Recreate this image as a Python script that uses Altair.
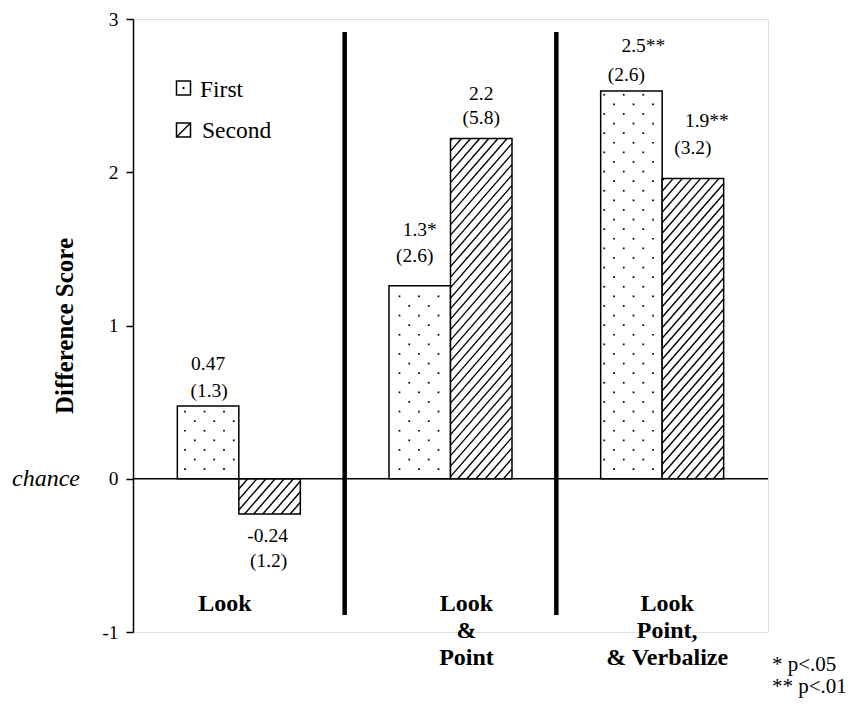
import altair as alt
import pandas as pd
import numpy as np

# ---------------- data ----------------
groups = ["Look", "Look\n&\nPoint", "Look\nPoint,\n& Verbalize"]
series = ["First", "Second"]
first_vals = [0.475, 1.26, 2.53]
second_vals = [-0.23, 2.22, 1.96]
first_means = ["0.47", "1.3*", "2.5**"]
first_sds = ["(1.3)", "(2.6)", "(2.6)"]
second_means = ["-0.24", "2.2", "1.9**"]
second_sds = ["(1.2)", "(5.8)", "(3.2)"]
y_ticks = [-1, 0, 1, 2, 3]
legend_labels = ["First", "Second"]
footnotes = ["* p<.05", "** p<.01"]

# ---------------- layout (pixels) ----------------
W, H = 635, 613
XU, YU = W / 3.0, H / 4.0
BAR = 61.5 / XU
FONT = "Liberation Serif"
TOP = 11

# label offsets (px) from bar end: row1 number, row2 sd; order First/Second per group
row1_off = [42, 22, 56, 45, 45, 57]
row2_off = [15, 47, 30, 21, 16, 30]
row1_dx = [0, -2, 0, 0, 12, 14]
row2_dx = [1, -1, -5, 0, -5, 0]
group_dx = [-14, 16, 5]

bars = []
for g in range(3):
    for s, vals in ((0, first_vals), (1, second_vals)):
        x0 = g + 0.5 - BAR if s == 0 else g + 0.5
        bars.append({"g": g, "series": series[s], "x0": x0, "x1": x0 + BAR,
                     "v": vals[g], "base": 0.0})
bars_df = pd.DataFrame(bars)

# value labels
lab = []
i = 0
for g in range(3):
    for s in range(2):
        v = (first_vals if s == 0 else second_vals)[g]
        m = (first_means if s == 0 else second_means)[g]
        sd = (first_sds if s == 0 else second_sds)[g]
        cx = g + 0.5 - BAR / 2 if s == 0 else g + 0.5 + BAR / 2
        sign = 1 if v >= 0 else -1
        lab.append({"x": cx + row1_dx[i] / XU, "y": v + sign * row1_off[i] / YU, "t": m})
        lab.append({"x": cx + row2_dx[i] / XU, "y": v + sign * row2_off[i] / YU, "t": sd})
        i += 1
lab_df = pd.DataFrame(lab)

# dot pattern for First bars (global staggered grid in px)
DX, DY = 19.5, 9.6
dots = []
for b in bars:
    if b["series"] != "First":
        continue
    x0p, x1p = b["x0"] * XU, b["x1"] * XU
    top = b["v"] * YU
    k = 1
    while k * DY < top - 2.5:
        yp = k * DY
        base = 52.0 if k % 2 == 1 else 61.75
        j0 = int(np.floor((x0p - base) / DX)) - 1
        for j in range(j0, j0 + 8):
            xp = base + j * DX
            if x0p + 3 < xp < x1p - 3:
                dots.append({"x": xp / XU, "y": yp / YU})
        k += 1
dots_df = pd.DataFrame(dots)

# hatch pattern for Second bars: lines y = m*x + c (px, y up)
M, SP, C0 = 1.15, 10.5, 4.5
hat = []
for b in bars:
    if b["series"] != "Second":
        continue
    x0p, x1p = b["x0"] * XU, b["x1"] * XU
    y0p, y1p = sorted([0.0, b["v"] * YU])
    for k in range(-200, 200):
        c = C0 + k * SP
        xa = max(x0p, (y0p - c) / M)
        xb = min(x1p, (y1p - c) / M)
        if xb - xa > 0.5:
            hat.append({"x": xa / XU, "y": (M * xa + c) / YU,
                        "x2": xb / XU, "y2": (M * xb + c) / YU})
hat_df = pd.DataFrame(hat)

xs = alt.Scale(domain=[0, 3], nice=False, zero=False)
ys = alt.Scale(domain=[-1, 3], nice=False, zero=False)
yaxis = alt.Axis(values=y_ticks, title="Difference Score", grid=False,
                 labelExpr="'' + datum.value",
                 titleFont=FONT, titleFontSize=25, titleFontWeight="bold",
                 titleColor="black", titlePadding=24,
                 labelFont=FONT, labelFontSize=19.5, labelColor="black",
                 labelPadding=8, domainColor="black", domainWidth=1.5,
                 tickColor="black", tickWidth=1.5, tickSize=7)


def X(f):
    return alt.X(f, type="quantitative", scale=xs, axis=None)


def Y(f):
    return alt.Y(f, type="quantitative", scale=ys, axis=yaxis)


bar_layer = alt.Chart(bars_df).mark_rect(fill="white", stroke="black", strokeWidth=1.5).encode(
    x=X("x0"), x2="x1", y=Y("v"), y2="base")

dot_layer = alt.Chart(dots_df).mark_square(size=3, color="black", opacity=1).encode(
    x=X("x"), y=Y("y"))

hat_layer = alt.Chart(hat_df).mark_rule(color="black", strokeWidth=1.4).encode(
    x=X("x"), y=Y("y"), x2="x2", y2="y2")

zero_layer = alt.Chart(pd.DataFrame({"x": [0.0], "x2": [3.0], "y": [0.0]})).mark_rule(
    color="black", strokeWidth=1.5).encode(x=X("x"), x2="x2", y=Y("y"))

sep_layer = alt.Chart(pd.DataFrame({"x": [1.0, 2.0], "y": [2.915, 2.915], "y2": [-0.889, -0.889]})).mark_rule(
    color="black", strokeWidth=4.5).encode(x=X("x"), y=Y("y"), y2="y2")

val_layer = alt.Chart(lab_df).mark_text(font=FONT, fontSize=19.5, color="black",
                                         align="center", baseline="middle").encode(
    x=X("x"), y=Y("y"), text="t:N")

grp_df = pd.DataFrame({"x": [g + 0.5 + group_dx[g] / XU for g in range(3)],
                       "py": [603.0 - TOP] * 3, "t": groups})
grp_layer = alt.Chart(grp_df).mark_text(font=FONT, fontSize=24, fontWeight="bold", color="black",
                                         align="center", baseline="alphabetic",
                                         lineBreak="\n", lineHeight=27).encode(
    x=X("x"), y=alt.Y("py:Q", scale=None, axis=None), text="t:N")

chance_layer = alt.Chart(pd.DataFrame({"px": [-87.0], "y": [0.0], "t": ["chance"]})).mark_text(
    font=FONT, fontSize=24, fontStyle="italic", color="black", align="center", baseline="middle").encode(
    x=alt.X("px:Q", scale=None, axis=None), y=Y("y"), text="t:N")

leg_df = pd.DataFrame({"bx": [50.5, 50.5], "by": [88.0 - 8 - TOP, 130.0 - 8 - TOP],
                       "tx": [67.0, 69.0], "ty": [90.0 - 8 - TOP, 131.0 - 8 - TOP], "t": legend_labels})
leg_box = alt.Chart(leg_df).mark_square(size=196, fill="white", stroke="black", strokeWidth=1.5,
                                        opacity=1).encode(
    x=alt.X("bx:Q", scale=None, axis=None), y=alt.Y("by:Q", scale=None, axis=None))
leg_text = alt.Chart(leg_df).mark_text(font=FONT, fontSize=23.5, color="black",
                                       align="left", baseline="middle").encode(
    x=alt.X("tx:Q", scale=None, axis=None), y=alt.Y("ty:Q", scale=None, axis=None), text="t:N")
leg_dot = alt.Chart(leg_df.iloc[[0]]).mark_square(size=4, color="black", opacity=1).encode(
    x=alt.X("bx:Q", scale=None, axis=None), y=alt.Y("by:Q", scale=None, axis=None))
by2 = 130.0 - 8 - TOP
leg_diag = alt.Chart(pd.DataFrame({"x": [44.0], "y": [by2 + 6.5], "x2": [57.0], "y2": [by2 - 6.5]})).mark_rule(
    color="black", strokeWidth=1.5).encode(
    x=alt.X("x:Q", scale=None, axis=None), y=alt.Y("y:Q", scale=None, axis=None),
    x2="x2", y2="y2")

foot_layer = alt.Chart(pd.DataFrame({"px": [639.0, 639.0], "py": [665.0 - 8 - TOP, 687.0 - 8 - TOP],
                                     "t": footnotes})).mark_text(
    font=FONT, fontSize=21, color="black", align="left", baseline="middle").encode(
    x=alt.X("px:Q", scale=None, axis=None), y=alt.Y("py:Q", scale=None, axis=None), text="t:N")

chart = alt.layer(
    bar_layer, dot_layer, hat_layer, zero_layer, sep_layer, val_layer, grp_layer,
    chance_layer, leg_box, leg_dot, leg_diag, leg_text, foot_layer
).properties(
    width=W, height=H,
    autosize=alt.AutoSizeParams(type="none"),
    padding={"left": 125, "top": TOP, "right": 79, "bottom": 66},
).configure_view(stroke=None).configure(background="white")

chart.save("out.html", embed_options={"renderer": "svg", "actions": False})
